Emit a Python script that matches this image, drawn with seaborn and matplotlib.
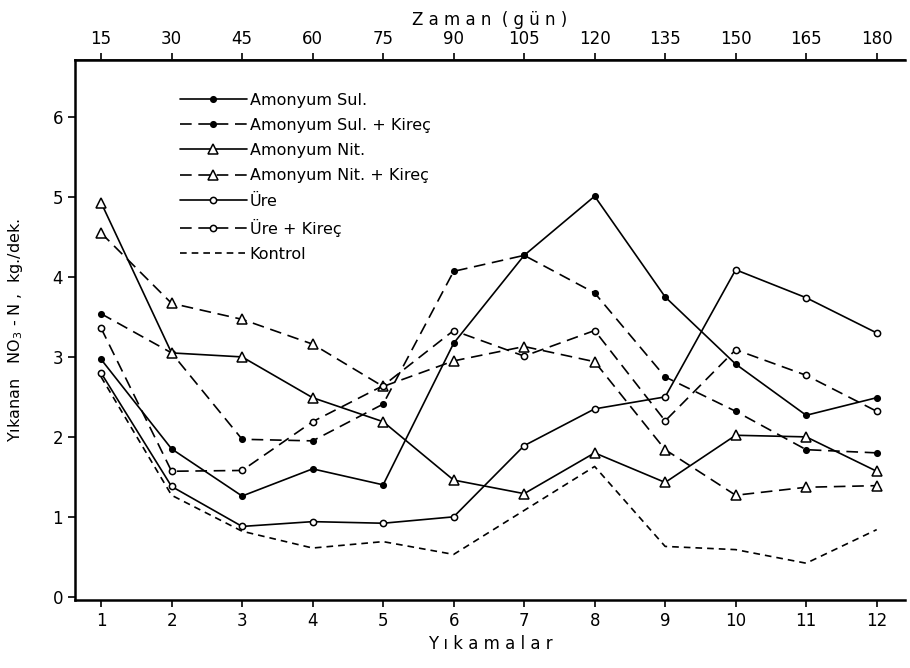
import matplotlib
matplotlib.use("Agg")
import matplotlib.pyplot as plt
import seaborn as sns
import numpy as np

sns.set_theme(style="white")
plt.rcParams['font.family'] = ['DejaVu Sans']
plt.rcParams['text.color'] = 'black'
plt.rcParams['axes.labelcolor'] = 'black'
plt.rcParams['xtick.color'] = 'black'
plt.rcParams['ytick.color'] = 'black'

yikama = [1, 2, 3, 4, 5, 6, 7, 8, 9, 10, 11, 12]
zaman = [15, 30, 45, 60, 75, 90, 105, 120, 135, 150, 165, 180]

amonyum_sul = [2.97, 1.85, 1.26, 1.60, 1.40, 3.17, 4.27, 5.01, 3.75, 2.91, 2.27, 2.49]
amonyum_sul_kirec = [3.54, 3.05, 1.97, 1.95, 2.41, 4.07, 4.27, 3.80, 2.75, 2.32, 1.84, 1.80]
amonyum_nit = [4.93, 3.05, 3.00, 2.49, 2.19, 1.46, 1.29, 1.80, 1.43, 2.02, 2.00, 1.57]
amonyum_nit_kirec = [4.55, 3.67, 3.47, 3.16, 2.63, 2.95, 3.13, 2.94, 1.84, 1.27, 1.37, 1.39]
ure = [2.80, 1.38, 0.88, 0.94, 0.92, 1.00, 1.89, 2.35, 2.50, 4.09, 3.74, 3.30]
ure_kirec = [3.36, 1.57, 1.58, 2.19, 2.64, 3.33, 3.01, 3.33, 2.20, 3.09, 2.77, 2.32]
kontrol = [2.75, 1.27, 0.82, 0.61, 0.69, 0.53, 1.08, 1.63, 0.63, 0.59, 0.42, 0.84]

labels = ["Amonyum Sul.", "Amonyum Sul. + Kireç", "Amonyum Nit.",
          "Amonyum Nit. + Kireç", "Üre", "Üre + Kireç", "Kontrol"]

series = [amonyum_sul, amonyum_sul_kirec, amonyum_nit, amonyum_nit_kirec, ure, ure_kirec, kontrol]
long_dash = (0, (7, 4))
styles = [
    dict(linestyle='-', marker='o', markersize=4, markerfacecolor='black'),
    dict(linestyle=long_dash, marker='o', markersize=4, markerfacecolor='black'),
    dict(linestyle='-', marker='^', markersize=7, markerfacecolor='white'),
    dict(linestyle=long_dash, marker='^', markersize=7, markerfacecolor='white'),
    dict(linestyle='-', marker='o', markersize=4.5, markerfacecolor='white'),
    dict(linestyle=long_dash, marker='o', markersize=4.5, markerfacecolor='white'),
    dict(linestyle=(0, (4, 3)), marker=None),
]

fig = plt.figure(figsize=(9.1, 6.68), dpi=100)
ax = fig.add_axes([0.0824, 0.1018, 0.912, 0.808])

for vals, lab, st in zip(series, labels, styles):
    sns.lineplot(x=yikama, y=vals, ax=ax, color='black', linewidth=1.2,
                 markeredgecolor='black', markeredgewidth=1.1, label=lab, **st)

ax.set_xlim(0.63, 12.4)
ax.set_ylim(-0.04, 6.71)
ax.set_xticks(yikama)
ax.set_xticklabels([str(v) for v in yikama], fontsize=12)
ax.set_yticks(range(0, 7))
ax.set_yticklabels([str(v) for v in range(0, 7)], fontsize=12)
ax.tick_params(axis='both', direction='out', length=5, width=1.2, color='black', labelcolor='black')
ax.tick_params(axis='both', which='both', left=True, bottom=True)

for s in ['left', 'bottom', 'top']:
    ax.spines[s].set_color('black')
    ax.spines[s].set_linewidth(1.8)
ax.spines['right'].set_visible(False)

ax.set_xlabel("Y ı k a m a l a r", fontsize=12, labelpad=4, color='black')
ax.set_ylabel("Yıkanan   NO$_3$ - N ,  kg./dek.", fontsize=11.5, labelpad=20, color='black')

top = ax.secondary_xaxis('top')
top.set_xticks(yikama)
top.set_xticklabels([str(v) for v in zaman], fontsize=12)
top.tick_params(direction='out', length=5, width=1.2, color='black', labelcolor='black')
top.set_xlabel("Z a m a n  ( g ü n )", fontsize=12, labelpad=4, color='black')

leg = ax.legend(loc='upper left', bbox_to_anchor=(0.126, 0.94), frameon=False,
                fontsize=11.5, handlelength=4.2, handletextpad=0.2,
                labelspacing=0.64, borderpad=0, borderaxespad=0)
for t in leg.get_texts():
    t.set_color('black')

fig.savefig("out.png", dpi=100, facecolor='white')
